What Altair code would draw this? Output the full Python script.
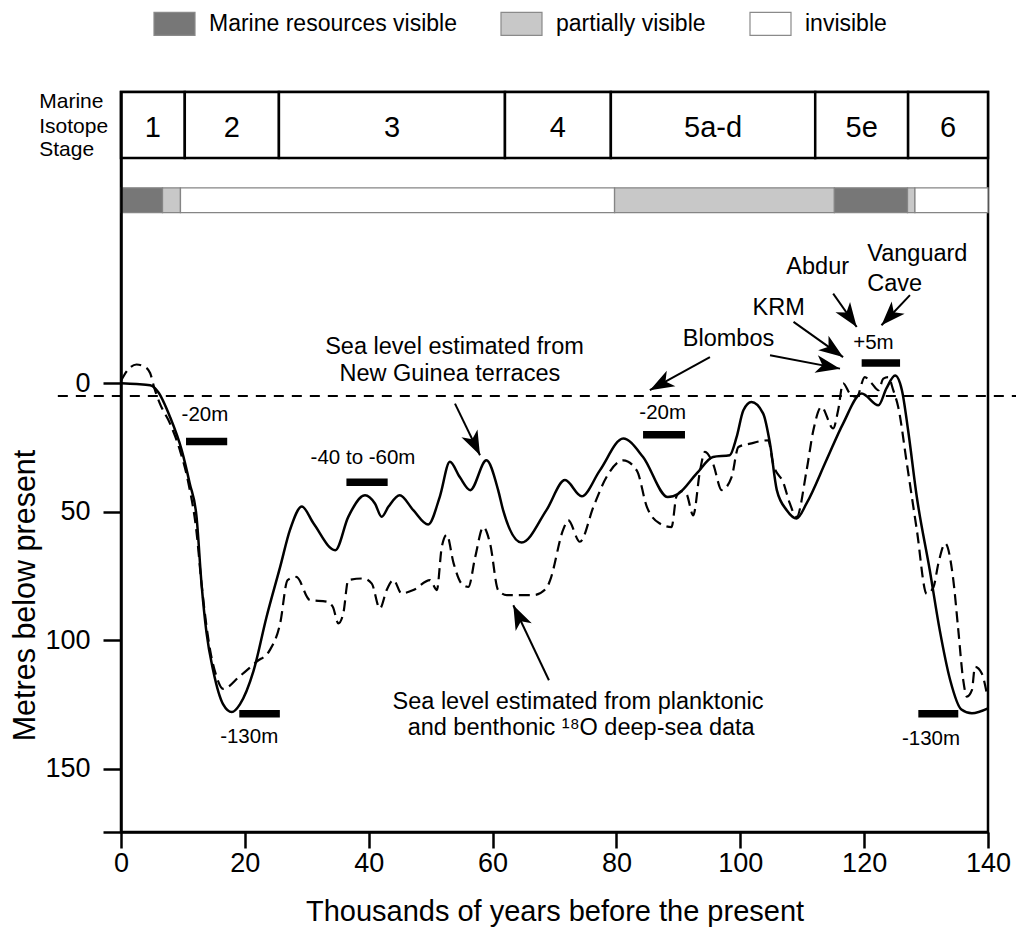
import math
import altair as alt
import pandas as pd

FONT = "Liberation Sans"
W, H = 867, 740
XMIN, XMAX = 0, 140
YMIN, YMAX = -113.4, 174.7

# ---------------- data ----------------
stage_labels = ["1", "2", "3", "4", "5a-d", "5e", "6"]
stage_start = [0, 10.3, 25.5, 62.0, 79.1, 112.1, 127.1]
stage_end = [10.3, 25.5, 62.0, 79.1, 112.1, 127.1, 140]
stage_top, stage_bottom, stage_mid = -113.4, -87.7, -99.2

res_categories = ["Marine resources visible", "partially visible", "invisible"]
res_colors = ["#777777", "#c8c8c8", "#ffffff"]
res_status = ["Marine resources visible", "partially visible", "invisible",
              "partially visible", "Marine resources visible", "partially visible", "invisible"]
res_start = [0, 6.7, 9.6, 79.7, 115.2, 127.0, 128.2]
res_end = [6.7, 9.6, 79.7, 115.2, 127.0, 128.2, 140]
res_top, res_bottom = -76.1, -66.4

# Sea level from New Guinea terraces (solid)
ng_x = [0, 2.5, 4.7, 6.0, 7.9, 9.8, 11.1, 12.2, 13.0, 13.8, 14.9, 16.5, 17.9, 19.2, 21.4,
        23.5, 25.7, 27.3, 29.2, 31.1, 34.6, 36.7, 39.4, 41.0, 42.1, 43.2, 45.0, 47.2, 49.6,
        51.5, 53.1, 54.7, 56.4, 59.0, 60.9, 61.7, 64.7, 68.7, 71.7, 74.4, 77.3, 81.1, 84.3,
        88.3, 90.0, 93.0, 95.6, 98.3, 99.4, 100.5, 101.8, 103.7, 104.8, 105.9, 107.5, 109.1,
        110.7, 113.9, 116.6, 119.6, 122.3, 123.6, 125.0, 126.1, 127.1, 128.5, 130.6, 132.2,
        133.9, 135.7, 137.4, 140]
ng_y = [0, 0.3, 0.8, 3.4, 13, 26, 39, 52, 78, 97, 112, 125, 128, 125, 112,
        91, 71.5, 57, 48, 54.6, 65, 52, 43.6, 46.8, 52, 48, 43.6, 49.4, 55,
        44, 30.6, 36.5, 41.6, 30, 41.6, 49.4, 62, 49.4, 37.7, 44, 34, 21.5, 28.7,
        44.3, 43, 35, 28.7, 28, 21, 10.5, 7.3, 11.8, 23.5, 41.6, 49.4, 52.6,
        46.8, 30, 15.7, 4, 8.6, 2, -3, 2.7, 18.3, 44.2, 72.8, 96,
        115.6, 127, 128.5, 126.6]

# Sea level from planktonic and benthonic 18O deep-sea data (dashed)
ds_x = [0, 1.2, 2.5, 3.8, 4.7, 5.4, 6.3, 7.9, 9.5, 10.9, 12.2, 13.0, 14.4, 15.4, 16.5,
        19.2, 21.9, 24.0, 25.7, 26.9, 28.3, 30.5, 33.2, 34.2, 35.1, 35.9, 36.7, 39.1, 40.5,
        41.8, 42.9, 44.0, 45.3, 47.2, 49.9, 51.0, 51.8, 52.6, 53.7, 55.0, 56.1, 57.2, 58.5,
        59.6, 60.9, 62.3, 66.6, 68.7, 69.3, 71.4, 72.2, 74.1, 76.3, 78.4, 81.1, 83.3, 84.9,
        87.0, 88.9, 89.7, 90.6, 91.3, 92.4, 93.5, 94.3, 95.6, 97.0, 98.6, 99.7, 101.6, 104.5,
        105.3, 107.0, 108.0, 109.1, 110.7, 111.8, 113.1, 115.0, 115.8, 116.6, 117.7, 118.8,
        120.1, 121.2, 122.3, 123.1, 123.9, 124.7, 125.5, 126.9, 128.5, 130.1, 131.2, 132.0,
        133.1, 134.4, 135.2, 136.0, 136.6, 137.4, 137.9, 139.0, 139.8]
ds_y = [-1, -5.5, -7.3, -6.5, -4, 2, 8, 15.6, 26, 39, 58, 78, 104, 114, 119,
        114, 108.4, 104, 93.5, 76.6, 75.4, 84.4, 85, 87, 93.5, 89.5, 76.6, 76, 78,
        87.7, 80.5, 76.6, 81.8, 80.5, 76.6, 80.5, 63.7, 59, 70, 78, 79.3, 67.6, 56,
        62.4, 80.5, 82.5, 82.5, 79.8, 76.6, 57, 53.3, 61.7, 48, 36.5, 30, 34, 48,
        54.6, 56, 44, 42, 43, 51.4, 34, 26.7, 31.3, 41.6, 36.5, 24.8, 23.5, 22.2,
        31.3, 39, 46.8, 52, 34, 18.3, 9.2, 17.6, 10.5, 0, 4, 5.3,
        -2.4, 0, 2.7, -1.8, -2.4, 2.7, 9.2, 31.3, 57, 82, 79.3, 70,
        62.4, 76.6, 96, 115.6, 122, 119.5, 110.4, 113, 120.7]

ref_level = 5
ref_x = [-10.2, 146]

bar_x1 = [10.5, 36.4, 19.1, 84.3, 119.6, 128.75]
bar_x2 = [17.15, 43.06, 25.65, 91.07, 125.8, 135.2]
bar_y = [22.7, 38.5, 128.7, 20.0, -7.9, 128.7]
bar_text = ["-20m", "-40 to -60m", "-130m", "-20m", "+5m", "-130m"]
bar_text_x = [13.56, 39.08, 20.7, 87.47, 121.5, 130.8]
bar_text_y = [12.5, 28.9, 137.7, 11.6, -15.7, 138.6]

note_text = ["Sea level estimated from", "New Guinea terraces",
             "Sea level estimated from planktonic", "and benthonic \u00b9\u2078O deep-sea data",
             "Blombos", "KRM", "Abdur"]
note_x = [53.85, 53.1, 73.8, 74.3, 98.1, 106.2, 112.5]
note_y = [-14.1, -3.8, 124.2, 134.3, -17.4, -29.5, -45.3]

left_text = ["Vanguard", "Cave"]
left_x = [120.5, 120.5]
left_y = [-50.2, -38.8]

mis_text = ["Marine", "Isotope", "Stage"]
mis_x = [-13.2, -13.2, -13.2]
mis_y = [-109.5, -99.8, -91.0]

arrow_tail_x = [53.93, 69.1, 95.1, 104.8, 108.6, 115.0, 127.4]
arrow_tail_y = [7.9, 115.6, -10.2, -10.9, -23.9, -34.9, -34.3]
arrow_tip_x = [57.97, 63.35, 85.4, 116.1, 116.6, 118.8, 122.8]
arrow_tip_y = [28.0, 86.4, 2.7, -5.7, -10.2, -21.9, -22.6]

# ---------------- tables ----------------
stages = pd.DataFrame({"label": stage_labels, "x": stage_start, "x2": stage_end})
stages["mid"] = (stages["x"] + stages["x2"]) / 2
res = pd.DataFrame({"status": res_status, "x": res_start, "x2": res_end})
ng = pd.DataFrame({"x": ng_x, "y": ng_y})
ds = pd.DataFrame({"x": ds_x, "y": ds_y})
ref = pd.DataFrame({"x": [ref_x[0]], "x2": [ref_x[1]], "y": [ref_level]})
bars = pd.DataFrame({"x": bar_x1, "x2": bar_x2, "y": bar_y})
bar_labels = pd.DataFrame({"t": bar_text, "x": bar_text_x, "y": bar_text_y})
notes = pd.DataFrame({"t": note_text, "x": note_x, "y": note_y})
lefts = pd.DataFrame({"t": left_text, "x": left_x, "y": left_y})
mis = pd.DataFrame({"t": mis_text, "x": mis_x, "y": mis_y})

sx = W / (XMAX - XMIN)
sy = H / (YMAX - YMIN)
angles = []
for tx, ty, hx, hy in zip(arrow_tail_x, arrow_tail_y, arrow_tip_x, arrow_tip_y):
    dx = (hx - tx) * sx
    dy = (hy - ty) * sy
    angles.append(math.degrees(math.atan2(dx, -dy)) % 360)
arrows = pd.DataFrame({"x": arrow_tail_x, "y": arrow_tail_y,
                       "x2": arrow_tip_x, "y2": arrow_tip_y, "angle": angles})

# ---------------- scales / axes ----------------
xscale = alt.Scale(domain=[XMIN, XMAX], nice=False, zero=False)
yscale = alt.Scale(domain=[YMIN, YMAX], nice=False, zero=False, reverse=True)

xaxis = alt.Axis(values=[0, 20, 40, 60, 80, 100, 120, 140], title="Thousands of years before the present",
                 grid=False, tickSize=16, tickWidth=2.5, tickColor="black",
                 domainColor="black", domainWidth=2.5, labelFontSize=27, labelFont=FONT,
                 labelColor="black", labelPadding=2, labelFlush=False, labelOverlap=False,
                 titleFontSize=29, titleFont=FONT, titleFontWeight="normal", titleColor="black",
                 titlePadding=21, zindex=1)
yaxis = alt.Axis(values=[0, 50, 100, 150, YMAX], labelExpr="datum.value > 160 ? '' : datum.label",
                 title="Metres below present", grid=False, tickSize=18, tickWidth=2.5,
                 tickColor="black", domainColor="black", domainWidth=2.5, labelFontSize=27,
                 labelFont=FONT, labelColor="black", labelPadding=13, labelOverlap=False,
                 titleFontSize=30.5, titleFont=FONT, titleFontWeight="normal", titleColor="black",
                 titleAngle=270, titleX=-96, titleY=503, titleAlign="center",
                 titleBaseline="middle", zindex=1)


def X(f):
    return alt.X(f, type="quantitative", scale=xscale, axis=xaxis)


def Y(f):
    return alt.Y(f, type="quantitative", scale=yscale, axis=yaxis)


RECT_PATH = "M-1,-0.56H1V0.56H-1Z"
ARROW_PATH = "M0,0L0.7,1.9L0,1.4L-0.7,1.9Z"

stage_rects = alt.Chart(stages).mark_rect(fill="white", stroke="black", strokeWidth=2.5).encode(
    x=X("x"), x2="x2", y=alt.Y(datum=stage_top, scale=yscale, axis=yaxis), y2=alt.Y2(datum=stage_bottom))
stage_text = alt.Chart(stages).mark_text(font=FONT, fontSize=29, color="black", baseline="middle").encode(
    x=X("mid"), y=alt.Y(datum=stage_mid, scale=yscale, axis=yaxis), text="label:N")

res_rects = alt.Chart(res).mark_rect(stroke="#858585", strokeWidth=1.3).encode(
    x=X("x"), x2="x2", y=alt.Y(datum=res_top, scale=yscale, axis=yaxis), y2=alt.Y2(datum=res_bottom),
    fill=alt.Fill("status:N", scale=alt.Scale(domain=res_categories, range=res_colors),
                  legend=alt.Legend(orient="none", legendX=32, legendY=-90, direction="horizontal",
                                    title=None, symbolType=RECT_PATH, symbolSize=1681,
                                    symbolStrokeColor="#8a8a8a", symbolStrokeWidth=1.2,
                                    symbolOpacity=1, labelFontSize=23, labelFont=FONT,
                                    labelColor="black", labelOffset=13, labelLimit=400,
                                    columnPadding=41, padding=0)))

ref_line = alt.Chart(ref).mark_rule(color="black", strokeWidth=2, strokeDash=[10, 8]).encode(
    x=X("x"), x2="x2", y=Y("y"))

ng_line = alt.Chart(ng).mark_line(color="black", strokeWidth=2.5, interpolate="monotone").encode(
    x=X("x"), y=Y("y"))
ds_line = alt.Chart(ds).mark_line(color="black", strokeWidth=2.2, strokeDash=[11, 6],
                                  interpolate="monotone").encode(x=X("x"), y=Y("y"))

bar_marks = alt.Chart(bars).mark_rule(color="black", strokeWidth=7.5, strokeCap="butt").encode(
    x=X("x"), x2="x2", y=Y("y"))
bar_text_marks = alt.Chart(bar_labels).mark_text(font=FONT, fontSize=20.5, color="black",
                                                 baseline="middle").encode(
    x=X("x"), y=Y("y"), text="t:N")

note_marks = alt.Chart(notes).mark_text(font=FONT, fontSize=23.5, color="black", baseline="middle").encode(
    x=X("x"), y=Y("y"), text="t:N")
left_marks = alt.Chart(lefts).mark_text(font=FONT, fontSize=23.5, color="black", baseline="middle",
                                        align="left").encode(x=X("x"), y=Y("y"), text="t:N")
mis_marks = alt.Chart(mis).mark_text(font=FONT, fontSize=21, color="black", baseline="middle",
                                     align="left").encode(x=X("x"), y=Y("y"), text="t:N")

arrow_lines = alt.Chart(arrows).mark_rule(color="black", strokeWidth=2).encode(
    x=X("x"), x2="x2", y=Y("y"), y2="y2")
arrow_heads = alt.Chart(arrows).mark_point(shape=ARROW_PATH, filled=True, color="black", size=650,
                                           opacity=1, strokeWidth=0).encode(
    x=X("x2"), y=Y("y2"), angle=alt.Angle("angle:Q", scale=None))

chart = alt.layer(
    stage_rects, stage_text, res_rects, ref_line, ds_line, ng_line, bar_marks, bar_text_marks,
    note_marks, left_marks, mis_marks, arrow_lines, arrow_heads
).properties(
    width=W, height=H,
    autosize=alt.AutoSizeParams(type="none"),
    padding={"left": 113, "top": 84, "right": 28, "bottom": 98},
    background="white",
).configure_view(stroke="black", strokeWidth=2.5)

chart.save("out.html", embed_options={"renderer": "svg", "actions": False})
